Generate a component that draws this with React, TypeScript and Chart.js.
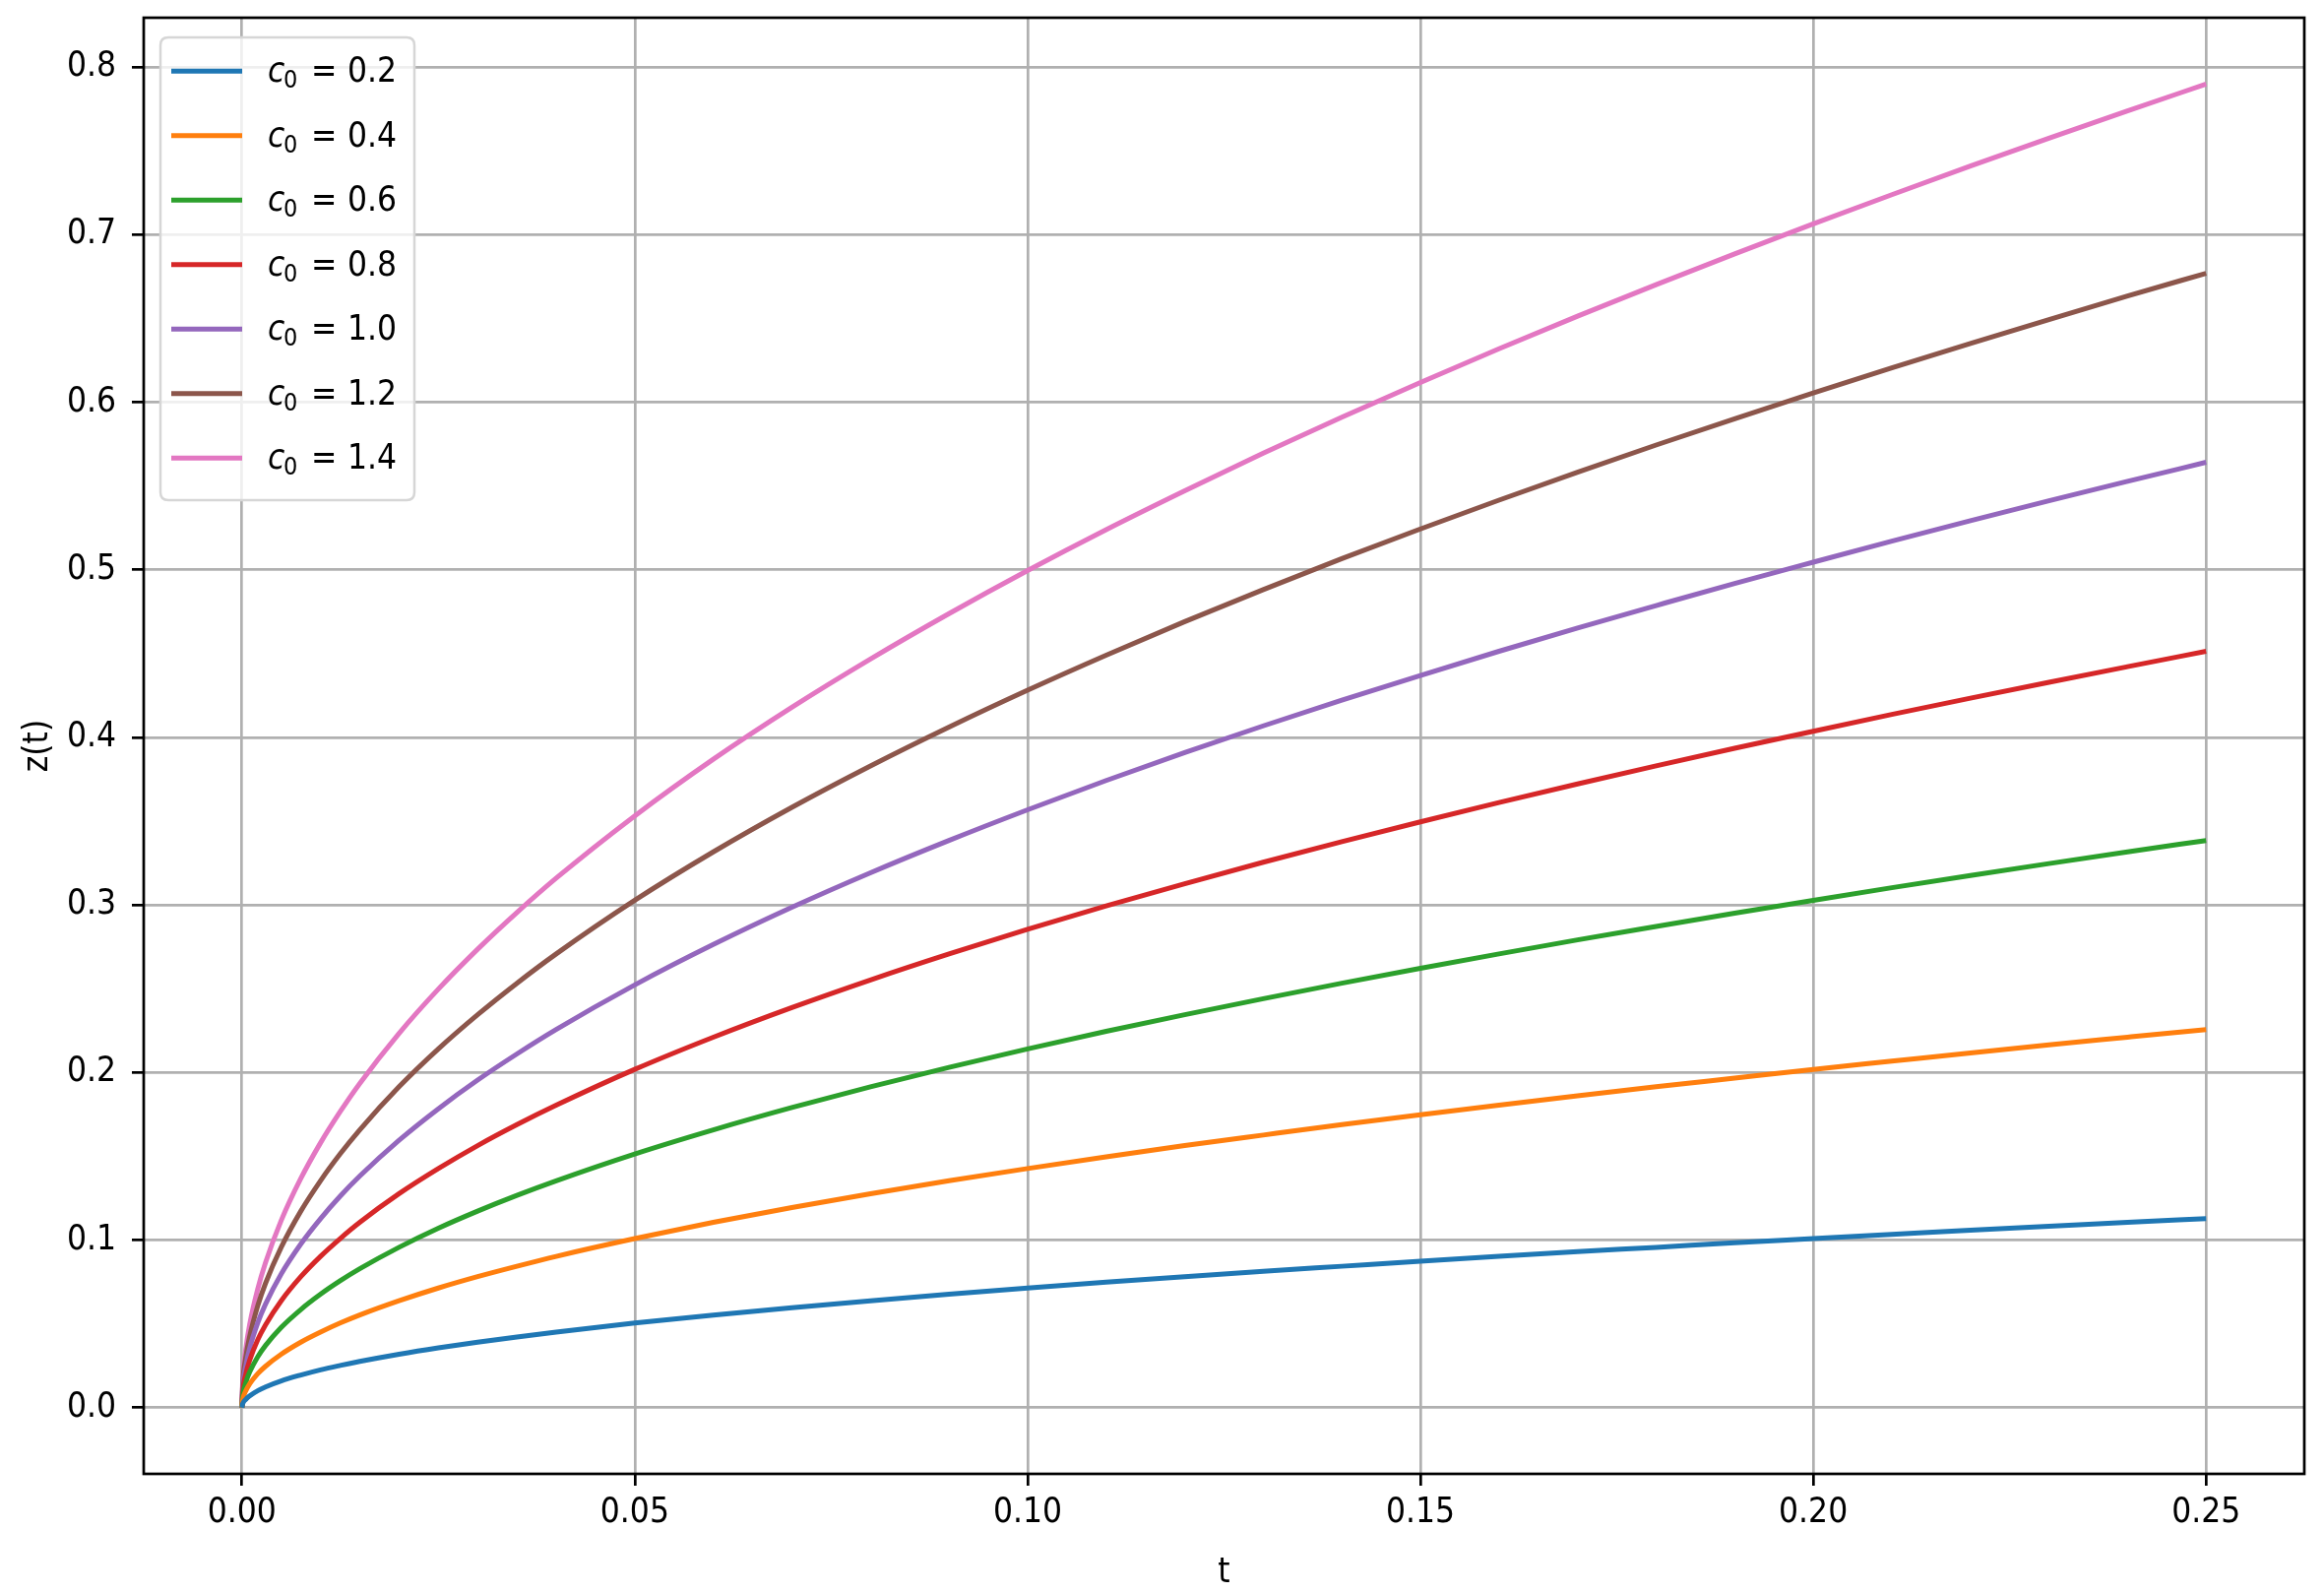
import React, { useEffect, useRef } from "react";
import { Chart, registerables } from "chart.js";

Chart.register(...registerables);

// ---- Data ----
const T_VALUES = [0, 0.0001, 0.0005, 0.001, 0.002, 0.003, 0.005, 0.0075, 0.01, 0.0125, 0.015, 0.02, 0.025, 0.03, 0.035, 0.04, 0.05, 0.06, 0.07, 0.08, 0.09, 0.1, 0.11, 0.12, 0.13, 0.14, 0.15, 0.16, 0.17, 0.18, 0.19, 0.2, 0.21, 0.22, 0.23, 0.24, 0.25];

const Z_C0_02 = [0, 0.0023, 0.0050, 0.0071, 0.0101, 0.0124, 0.0160, 0.0195, 0.0226, 0.0252, 0.0276, 0.0319, 0.0357, 0.0391, 0.0422, 0.0451, 0.0505, 0.0553, 0.0597, 0.0638, 0.0677, 0.0714, 0.0749, 0.0782, 0.0814, 0.0844, 0.0874, 0.0903, 0.0931, 0.0957, 0.0984, 0.1009, 0.1034, 0.1059, 0.1082, 0.1106, 0.1128];
const Z_C0_04 = [0, 0.0045, 0.0101, 0.0143, 0.0202, 0.0247, 0.0319, 0.0391, 0.0451, 0.0505, 0.0553, 0.0638, 0.0714, 0.0782, 0.0844, 0.0903, 0.1009, 0.1106, 0.1194, 0.1277, 0.1354, 0.1427, 0.1497, 0.1564, 0.1627, 0.1689, 0.1748, 0.1805, 0.1861, 0.1915, 0.1967, 0.2019, 0.2068, 0.2117, 0.2165, 0.2211, 0.2257];
const Z_C0_06 = [0, 0.0068, 0.0151, 0.0214, 0.0303, 0.0371, 0.0479, 0.0586, 0.0677, 0.0757, 0.0829, 0.0957, 0.1071, 0.1173, 0.1267, 0.1354, 0.1514, 0.1658, 0.1791, 0.1915, 0.2031, 0.2141, 0.2246, 0.2345, 0.2441, 0.2533, 0.2622, 0.2708, 0.2792, 0.2872, 0.2951, 0.3028, 0.3103, 0.3176, 0.3247, 0.3317, 0.3385];
const Z_C0_08 = [0, 0.0090, 0.0202, 0.0285, 0.0404, 0.0494, 0.0638, 0.0782, 0.0903, 0.1009, 0.1106, 0.1277, 0.1427, 0.1564, 0.1689, 0.1805, 0.2019, 0.2211, 0.2388, 0.2553, 0.2708, 0.2855, 0.2994, 0.3127, 0.3255, 0.3378, 0.3496, 0.3611, 0.3722, 0.3830, 0.3935, 0.4037, 0.4137, 0.4234, 0.4329, 0.4422, 0.4514];
const Z_C0_10 = [0, 0.0113, 0.0252, 0.0357, 0.0505, 0.0618, 0.0798, 0.0977, 0.1128, 0.1262, 0.1382, 0.1596, 0.1784, 0.1955, 0.2111, 0.2257, 0.2523, 0.2764, 0.2986, 0.3192, 0.3385, 0.3568, 0.3743, 0.3909, 0.4069, 0.4222, 0.4370, 0.4514, 0.4653, 0.4787, 0.4919, 0.5046, 0.5171, 0.5293, 0.5412, 0.5528, 0.5642];
const Z_C0_12 = [0, 0.0135, 0.0303, 0.0428, 0.0606, 0.0742, 0.0957, 0.1173, 0.1354, 0.1514, 0.1658, 0.1915, 0.2141, 0.2345, 0.2533, 0.2708, 0.3028, 0.3317, 0.3583, 0.3830, 0.4062, 0.4282, 0.4491, 0.4691, 0.4882, 0.5067, 0.5244, 0.5416, 0.5583, 0.5745, 0.5902, 0.6056, 0.6205, 0.6351, 0.6494, 0.6634, 0.6770];
const Z_C0_14 = [0, 0.0158, 0.0353, 0.0500, 0.0706, 0.0865, 0.1117, 0.1368, 0.1580, 0.1766, 0.1935, 0.2234, 0.2498, 0.2736, 0.2955, 0.3160, 0.3532, 0.3870, 0.4180, 0.4468, 0.4739, 0.4996, 0.5240, 0.5472, 0.5696, 0.5911, 0.6118, 0.6319, 0.6514, 0.6702, 0.6886, 0.7065, 0.7239, 0.7410, 0.7576, 0.7739, 0.7899];

const C0_VALUES = ["0.2", "0.4", "0.6", "0.8", "1.0", "1.2", "1.4"];
const SERIES = [Z_C0_02, Z_C0_04, Z_C0_06, Z_C0_08, Z_C0_10, Z_C0_12, Z_C0_14];
const COLORS = ["#1f77b4", "#ff7f0e", "#2ca02c", "#d62728", "#9467bd", "#8c564b", "#e377c2"];

const X_TICKS = [0, 0.05, 0.1, 0.15, 0.2, 0.25];
const Y_TICKS = [0, 0.1, 0.2, 0.3, 0.4, 0.5, 0.6, 0.7, 0.8];

const X_TITLE = "t";
const Y_TITLE = "z(t)";

const FONT_FAMILY = '"DejaVu Sans Condensed", "DejaVu Sans", sans-serif';
const FONT_SIZE = 35;

const W = 2361;
const H = 1618;

const framePlugin = {
  id: "frame",
  afterDatasetsDraw(chart: any) {
    const { ctx, chartArea } = chart;
    ctx.save();
    ctx.strokeStyle = "#000";
    ctx.lineWidth = 2.7;
    ctx.strokeRect(chartArea.left, chartArea.top, chartArea.right - chartArea.left, chartArea.bottom - chartArea.top);
    ctx.restore();
  },
};

const legendPlugin = {
  id: "mplLegend",
  afterDraw(chart: any) {
    const { ctx } = chart;
    const bx = 163, by = 38, bw = 258, bh = 470, r = 8;
    ctx.save();
    ctx.beginPath();
    ctx.moveTo(bx + r, by);
    ctx.lineTo(bx + bw - r, by);
    ctx.quadraticCurveTo(bx + bw, by, bx + bw, by + r);
    ctx.lineTo(bx + bw, by + bh - r);
    ctx.quadraticCurveTo(bx + bw, by + bh, bx + bw - r, by + bh);
    ctx.lineTo(bx + r, by + bh);
    ctx.quadraticCurveTo(bx, by + bh, bx, by + bh - r);
    ctx.lineTo(bx, by + r);
    ctx.quadraticCurveTo(bx, by, bx + r, by);
    ctx.closePath();
    ctx.fillStyle = "rgba(255,255,255,0.8)";
    ctx.fill();
    ctx.strokeStyle = "#d6d6d6";
    ctx.lineWidth = 2.5;
    ctx.stroke();

    chart.data.datasets.forEach((ds: any, i: number) => {
      const cy = 72.3 + i * 65.5;
      ctx.beginPath();
      ctx.strokeStyle = ds.borderColor;
      ctx.lineWidth = 5;
      ctx.moveTo(174, cy);
      ctx.lineTo(246, cy);
      ctx.stroke();

      const base = cy + 11;
      ctx.fillStyle = "#000";
      ctx.textBaseline = "alphabetic";
      ctx.textAlign = "left";
      ctx.font = `italic ${FONT_SIZE}px ${FONT_FAMILY}`;
      ctx.fillText("c", 272, base);
      ctx.font = `${Math.round(FONT_SIZE * 0.72)}px ${FONT_FAMILY}`;
      ctx.fillText("0", 288, base + 6);
      ctx.font = `${FONT_SIZE}px ${FONT_FAMILY}`;
      ctx.fillText("=", 316, base);
      ctx.fillText(C0_VALUES[i], 353, base);
    });
    ctx.restore();
  },
};

export default function App() {
  const canvasRef = useRef<HTMLCanvasElement | null>(null);

  useEffect(() => {
    document.body.style.margin = "0";
    document.body.style.overflow = "hidden";
    const canvas = canvasRef.current;
    if (!canvas) return;

    const datasets = SERIES.map((arr, i) => ({
      label: `c₀ = ${C0_VALUES[i]}`,
      data: T_VALUES.map((t, j) => ({ x: t, y: arr[j] })),
      borderColor: COLORS[i],
      backgroundColor: COLORS[i],
      borderWidth: 5,
      pointRadius: 0,
      fill: false,
      cubicInterpolationMode: "monotone" as const,
    }));

    const tickFont = { family: FONT_FAMILY, size: FONT_SIZE };

    const chart = new Chart(canvas, {
      type: "line",
      data: { datasets },
      plugins: [framePlugin, legendPlugin],
      options: {
        responsive: false,
        animation: false,
        devicePixelRatio: 1,
        layout: { padding: { top: 18, right: 20, left: 0, bottom: 0 } },
        plugins: {
          legend: { display: false },
          tooltip: { enabled: false },
        },
        scales: {
          x: {
            type: "linear",
            min: -0.0125,
            max: 0.2625,
            afterBuildTicks: (s: any) => {
              s.ticks = X_TICKS.map((v) => ({ value: v }));
            },
            afterFit: (s: any) => {
              s.height = 121;
              s.paddingLeft = 0;
              s.paddingRight = 0;
            },
            ticks: {
              callback: (v: any) => Number(v).toFixed(2),
              font: tickFont,
              color: "#000",
              padding: 7,
              maxRotation: 0,
              autoSkip: false,
            },
            grid: {
              color: "#b0b0b0",
              lineWidth: 2.7,
              tickColor: "#000",
              tickLength: 12,
              tickWidth: 2.7,
              drawTicks: true,
            },
            border: { display: false },
            title: {
              display: true,
              text: X_TITLE,
              font: tickFont,
              color: "#000",
              padding: { top: 0, bottom: -1 },
            },
          },
          y: {
            type: "linear",
            min: -0.0395,
            max: 0.8295,
            afterBuildTicks: (s: any) => {
              s.ticks = Y_TICKS.map((v) => ({ value: v }));
            },
            afterFit: (s: any) => {
              s.width = 146;
              s.paddingTop = 0;
              s.paddingBottom = 0;
            },
            ticks: {
              callback: (v: any) => Number(v).toFixed(1),
              font: tickFont,
              color: "#000",
              padding: 16,
              autoSkip: false,
            },
            grid: {
              color: "#b0b0b0",
              lineWidth: 2.7,
              tickColor: "#000",
              tickLength: 12,
              tickWidth: 2.7,
              drawTicks: true,
            },
            border: { display: false },
            title: {
              display: true,
              text: Y_TITLE,
              font: tickFont,
              color: "#000",
              padding: { top: 18, bottom: 0 },
            },
          },
        },
      },
    } as any);

    return () => {
      chart.destroy();
    };
  }, []);

  return (
    <div style={{ width: W, height: H, background: "#fff" }}>
      <canvas ref={canvasRef} width={W} height={H} style={{ display: "block" }} />
    </div>
  );
}
